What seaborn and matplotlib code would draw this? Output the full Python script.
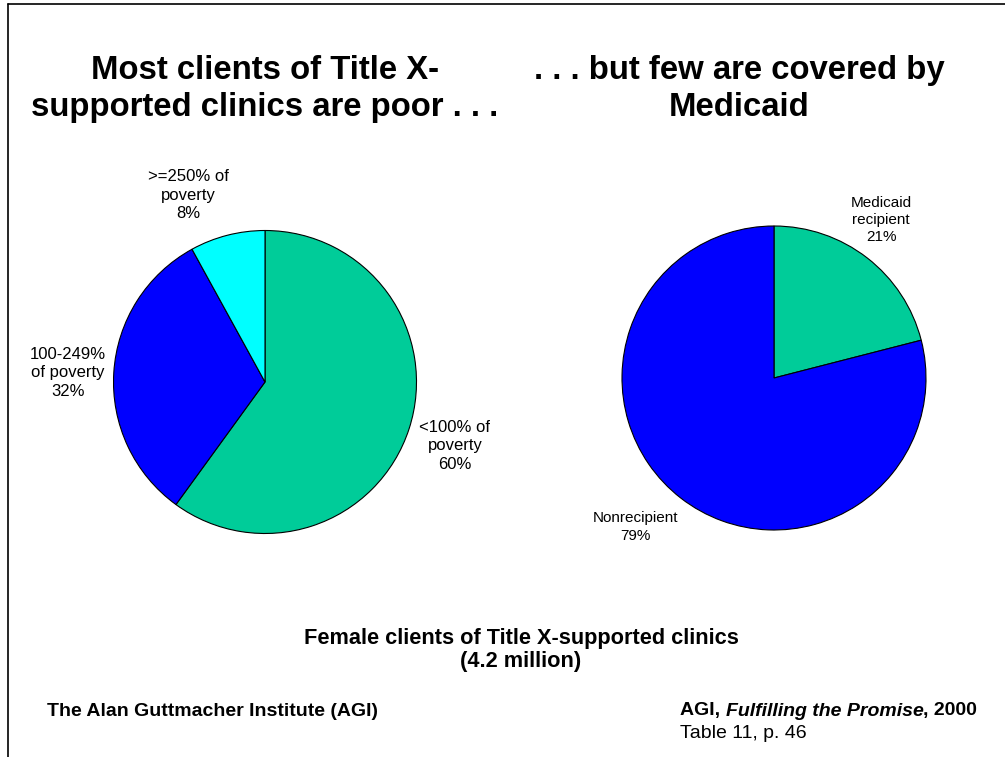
import matplotlib
matplotlib.use("Agg")
import matplotlib.pyplot as plt
import seaborn as sns

# Income of female clients, share of total (%)
income_labels = ["<100% of\npoverty", "100-249%\nof poverty", ">=250% of\npoverty"]
income_values = [60, 32, 8]

# Medicaid coverage, share of total (%)
medicaid_labels = ["Medicaid\nrecipient", "Nonrecipient"]
medicaid_values = [21, 79]

GREEN = "#00CC99"
BLUE = "#0000FF"
CYAN = "#00FFFF"

sns.set_theme(style="white")
plt.rcParams["font.family"] = ["Liberation Sans", "DejaVu Sans"]
plt.rcParams["text.color"] = "black"

W, H = 1005, 757
fig = plt.figure(figsize=(W / 100, H / 100), dpi=100)
fig.patch.set_facecolor("white")


def px_axes(cx, cy, r):
    return fig.add_axes([(cx - r) / W, (H - cy - r) / H, 2 * r / W, 2 * r / H])


def draw_pie(ax, values, colors):
    ax.pie(values, colors=colors, startangle=90, counterclock=False,
           wedgeprops=dict(edgecolor="black", linewidth=0.8))
    ax.set_xlim(-1, 1)
    ax.set_ylim(-1, 1)
    ax.set_aspect("equal")
    ax.axis("off")


# Left pie: poverty level
ax1 = px_axes(265, 382, 151.5)
draw_pie(ax1, income_values, [GREEN, BLUE, CYAN])
income_pos = [(1.254, -0.42), (-1.30, 0.06), (-0.508, 1.234)]
for lab, val, (x, y) in zip(income_labels, income_values, income_pos):
    ax1.text(x, y, f"{lab}\n{val}%", ha="center", va="center", color="black",
             fontsize=12, linespacing=1.3, clip_on=False)

# Right pie: Medicaid coverage
ax2 = px_axes(774, 378, 152)
draw_pie(ax2, medicaid_values, [GREEN, BLUE])
medicaid_pos = [(0.704, 1.04), (-0.914, -0.98)]
for lab, val, (x, y) in zip(medicaid_labels, medicaid_values, medicaid_pos):
    ax2.text(x, y, f"{lab}\n{val}%", ha="center", va="center", color="black",
             fontsize=11, linespacing=1.3, clip_on=False)


def ftext(x, y, s, **kw):
    return fig.text(x / W, 1 - y / H, s, color="black", **kw)


ftext(265, 89, "Most clients of Title X-\nsupported clinics are poor . . .",
      ha="center", va="center", fontsize=23.7, fontweight="bold", linespacing=1.26)
ftext(739, 89, ". . . but few are covered by\nMedicaid",
      ha="center", va="center", fontsize=23.7, fontweight="bold", linespacing=1.26)

ftext(521, 650, "Female clients of Title X-supported clinics\n(4.2 million)",
      ha="center", va="center", fontsize=15.7, fontweight="bold", linespacing=1.1)

ftext(47, 711, "The Alan Guttmacher Institute (AGI)", ha="left", va="center",
      fontsize=14, fontweight="bold")

t = ftext(680, 711, "AGI, ", ha="left", va="center", fontsize=14, fontweight="bold")
t2 = ftext(0, 0, "Fulfilling the Promise", fontsize=14, fontweight="bold",
           style="italic", va="center")
t3 = ftext(0, 0, ", 2000", fontsize=14, fontweight="bold", va="center")
fig.canvas.draw()
r = fig.canvas.get_renderer()
bb = t.get_window_extent(r)
t2.set_position((bb.x1 / W, 1 - 711 / H))
bb2 = t2.get_window_extent(r)
t3.set_position((bb2.x1 / W, 1 - 711 / H))

ftext(680, 734, "Table 11, p. 46", ha="left", va="center", fontsize=14)

# Frame lines along the top and left edges
fig.add_artist(plt.Line2D([8 / W, 1], [1 - 4 / H, 1 - 4 / H], color="black",
                          linewidth=1.2, transform=fig.transFigure))
fig.add_artist(plt.Line2D([8 / W, 8 / W], [0, 1 - 4 / H], color="black",
                          linewidth=1.2, transform=fig.transFigure))

fig.savefig("out.png", dpi=100, facecolor="white")
